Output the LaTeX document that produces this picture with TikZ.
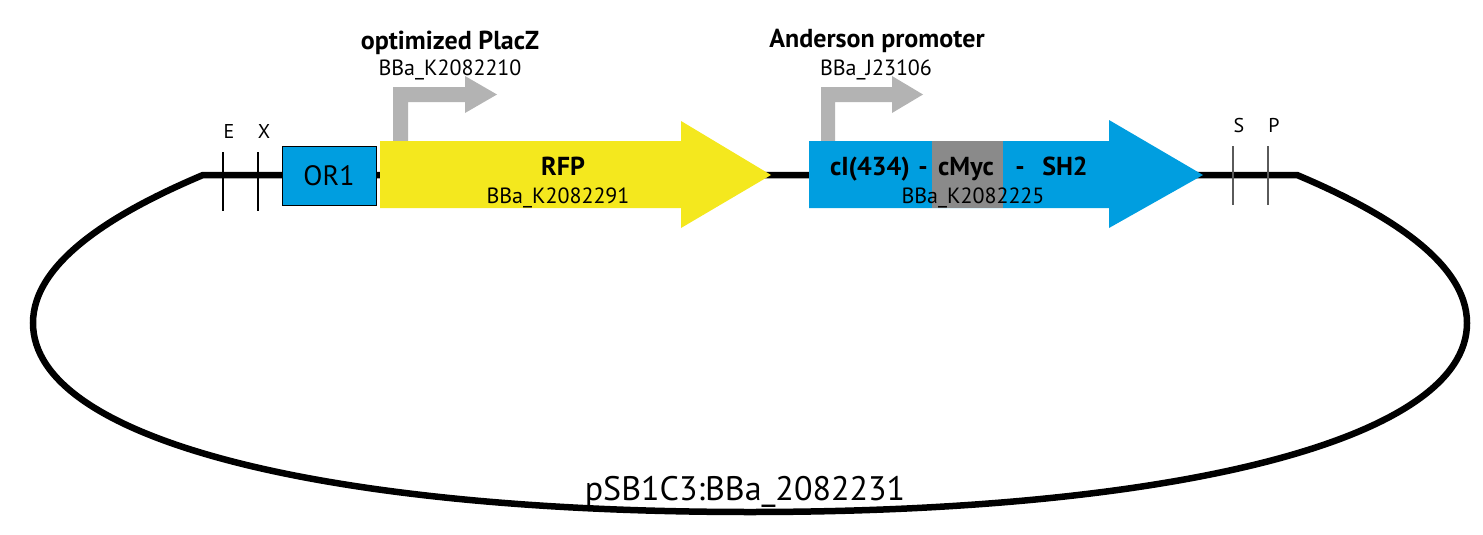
\documentclass[tikz,border=0pt]{standalone}
\usepackage{fontspec}
\setmainfont{PT Sans}
\definecolor{partblue}{RGB}{0,158,224}
\definecolor{partyellow}{RGB}{244,232,30}
\definecolor{promgray}{RGB}{179,179,179}
\definecolor{taggray}{RGB}{138,138,138}
\definecolor{sitegray}{RGB}{90,90,90}
\begin{document}
\begin{tikzpicture}[x=1pt,y=-1pt,
  backbone/.style={line width=6.5pt, black},
  sitemark/.style={line width=1.3pt, black},
  sitemarkgray/.style={line width=1.3pt, sitegray},
  lbl/.style={anchor=base, inner sep=0pt},
  boldlbl/.style={lbl, font=\fontsize{26}{30}\selectfont\bfseries},
  idlbl/.style={lbl, font=\fontsize{22}{26}\selectfont},
  sitelbl/.style={lbl, font=\fontsize{20}{24}\selectfont},
  promoter/.style={fill=promgray},
]
\useasboundingbox (0,0) rectangle (1483,535);

% backbone
\coordinate (bbL) at (203,175);
\coordinate (bbR) at (1297,175);
\draw[backbone] (bbL) -- (bbR)
  .. controls (1380,210) and (1467,260) .. (1467,323)
  .. controls (1467,440) and (1175,512) .. (750,512)
  .. controls (325,512) and (33,440) .. (33,323)
  .. controls (33,260) and (120,210) .. (bbL) -- cycle;

% restriction sites
\draw[sitemark] (223,152) -- (223,211);
\draw[sitemark] (258,152) -- (258,211);
\draw[sitemarkgray] (1233,146) -- (1233,205);
\draw[sitemarkgray] (1268,146) -- (1268,205);
\node[sitelbl] (E) at (229,138) {E};
\node[sitelbl] (X) at (264,138) {X};
\node[sitelbl] (S) at (1239,132) {S};
\node[sitelbl] (P) at (1274,132) {P};

% OR1
\node[draw=black, line width=0.8pt, fill=partblue, minimum width=94pt, minimum height=59pt,
      inner sep=0pt, font=\fontsize{28}{30}\selectfont] (or1) at (329,176) {OR1};

% promoters
\fill[promoter] (393,141) -- (393,87) -- (465,87) -- (465,76) -- (497,94.5) -- (465,113)
  -- (465,102) -- (408,102) -- (408,141) -- cycle;
\fill[promoter] (821,141) -- (821,87) -- (892,87) -- (892,76) -- (923,94.5) -- (892,113)
  -- (892,102) -- (835,102) -- (835,141) -- cycle;

% RFP
\fill[partyellow] (380,141) -- (681,141) -- (681,121) -- (771,175) -- (681,228)
  -- (681,208) -- (380,208) -- cycle;
% fusion
\fill[partblue] (809,141) -- (1109,141) -- (1109,120) -- (1203,175) -- (1109,228)
  -- (1109,208) -- (809,208) -- cycle;
\fill[taggray] (932,141) rectangle (1003,208);

% labels
\node[boldlbl] (placz) at (450,49) {optimized PlacZ};
\node[idlbl] (placzid) at (450,75) {BBa\_K2082210};
\node[boldlbl] (anderson) at (877,48) {Anderson promoter};
\node[idlbl] (andersonid) at (876,76) {BBa\_J23106};
\node[boldlbl] (rfp) at (563,175) {RFP};
\node[idlbl] (rfpid) at (558,203) {BBa\_K2082291};
\node[boldlbl] (ci) at (870,175) {cI(434)};
\node[boldlbl] (dash1) at (923,175) {-};
\node[boldlbl] (cmyc) at (966,175) {cMyc};
\node[boldlbl] (dash2) at (1020,175) {-};
\node[boldlbl] (sh2) at (1065,175) {SH2};
\node[idlbl] (fusionid) at (973,203) {BBa\_K2082225};
\node[lbl, font=\fontsize{34}{38}\selectfont] (plasmid) at (745,500) {pSB1C3:BBa\_2082231};
\end{tikzpicture}
\end{document}
